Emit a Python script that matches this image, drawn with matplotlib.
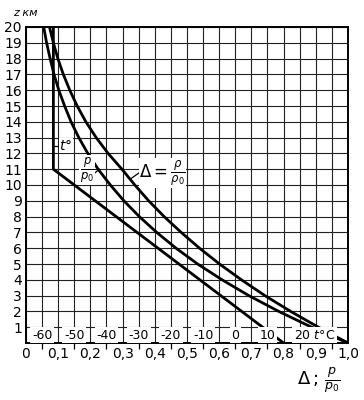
import matplotlib
matplotlib.use('Agg')
import matplotlib.pyplot as plt
from matplotlib.ticker import FixedLocator

plt.rcParams['font.family'] = ['Liberation Sans Narrow', 'DejaVu Sans']
plt.rcParams['mathtext.fontset'] = 'dejavusans'

# standard atmosphere
z_km = [0, 1, 2, 3, 4, 5, 6, 7, 8, 9, 10,
        11, 12, 13, 14, 15, 16, 17, 18, 19, 20]
p_ratio = [1.0, 0.887, 0.785, 0.692, 0.609, 0.533, 0.466, 0.406, 0.352, 0.304, 0.262,
           0.224, 0.192, 0.164, 0.140, 0.120, 0.102, 0.087, 0.075, 0.064, 0.055]
rho_ratio = [1.0, 0.908, 0.822, 0.742, 0.669, 0.601, 0.539, 0.482, 0.429, 0.381, 0.338,
             0.298, 0.255, 0.218, 0.186, 0.159, 0.136, 0.116, 0.099, 0.085, 0.073]

z_t = [0, 11, 20]
t_c = [15, -56.5, -56.5]
t_labels = [-60, -50, -40, -30, -20, -10, 0, 10, 20]

x_major = [0, 0.1, 0.2, 0.3, 0.4, 0.5, 0.6, 0.7, 0.8, 0.9, 1.0]
x_major_lbl = ['0', '0,1', '0,2', '0,3', '0,4', '0,5', '0,6', '0,7', '0,8', '0,9', '1,0']
x_minor = [0.05, 0.15, 0.25, 0.35, 0.45, 0.55, 0.65, 0.75, 0.85, 0.95]


def t_to_x(t):
    # temperature scale drawn along the bottom row
    return 0.65 + 0.01 * t


fig = plt.figure(figsize=(3.64, 4.0), dpi=100)
ax = fig.add_axes([0.0714, 0.1425, 0.8846, 0.79])
ax.set_xlim(0, 1)
ax.set_ylim(0, 20)

ax.xaxis.set_major_locator(FixedLocator(x_major))
ax.set_xticklabels(x_major_lbl)
ax.xaxis.set_minor_locator(FixedLocator(x_minor))
ax.set_yticks(z_km[1:])
ax.tick_params(axis='x', which='major', length=0, pad=3, labelsize=10)
ax.tick_params(axis='x', which='minor', length=4, width=0.9, direction='out')
ax.tick_params(axis='y', length=0, pad=3, labelsize=10)
ax.grid(True, which='both', color='#222222', lw=0.8, zorder=0)
ax.set_axisbelow(True)
for s in ax.spines.values():
    s.set_linewidth(1.4)

ax.plot(p_ratio, z_km, color='black', lw=2.0, zorder=2)
ax.plot(rho_ratio, z_km, color='black', lw=2.0, zorder=2)
ax.plot([t_to_x(t) for t in t_c], z_t, color='black', lw=2.0, zorder=2)

for t in t_labels[:-1]:
    ax.text(t_to_x(t), 0.5, str(t), ha='center', va='center', fontsize=9,
            bbox=dict(fc='white', ec='none', pad=1.2), zorder=3)
ax.text(t_to_x(t_labels[-1]) - 0.018, 0.5, str(t_labels[-1]) + r' $t$°C',
        ha='left', va='center', fontsize=9,
        bbox=dict(fc='white', ec='none', pad=1.2), zorder=3)

# curve labels
ax.plot([0.085, 0.1], [12.45, 12.45], color='black', lw=0.9)
ax.text(0.103, 12.5, r'$t$°', ha='left', va='center', fontsize=10,
        bbox=dict(fc='white', ec='none', pad=0.3))
ax.text(0.19, 10.95, r'$\frac{p}{p_0}$', ha='center', va='center', fontsize=12,
        bbox=dict(fc='white', ec='none', pad=0.3))
ax.plot([0.21, 0.228], [10.7, 11.0], color='black', lw=0.9)
ax.plot([0.322, 0.35], [10.35, 10.75], color='black', lw=0.9)
ax.text(0.352, 10.75, r'$\Delta = \frac{\rho}{\rho_0}$', ha='left', va='center',
        fontsize=12, bbox=dict(fc='white', ec='none', pad=0.3))

fig.text(0.035, 0.968, 'z км', style='italic', fontsize=8, ha='left', va='center')
fig.text(0.875, 0.05, r'$\Delta\,;\,\frac{p}{p_0}$', ha='center', va='center',
         fontsize=13)

fig.savefig('out.png', dpi=100)
